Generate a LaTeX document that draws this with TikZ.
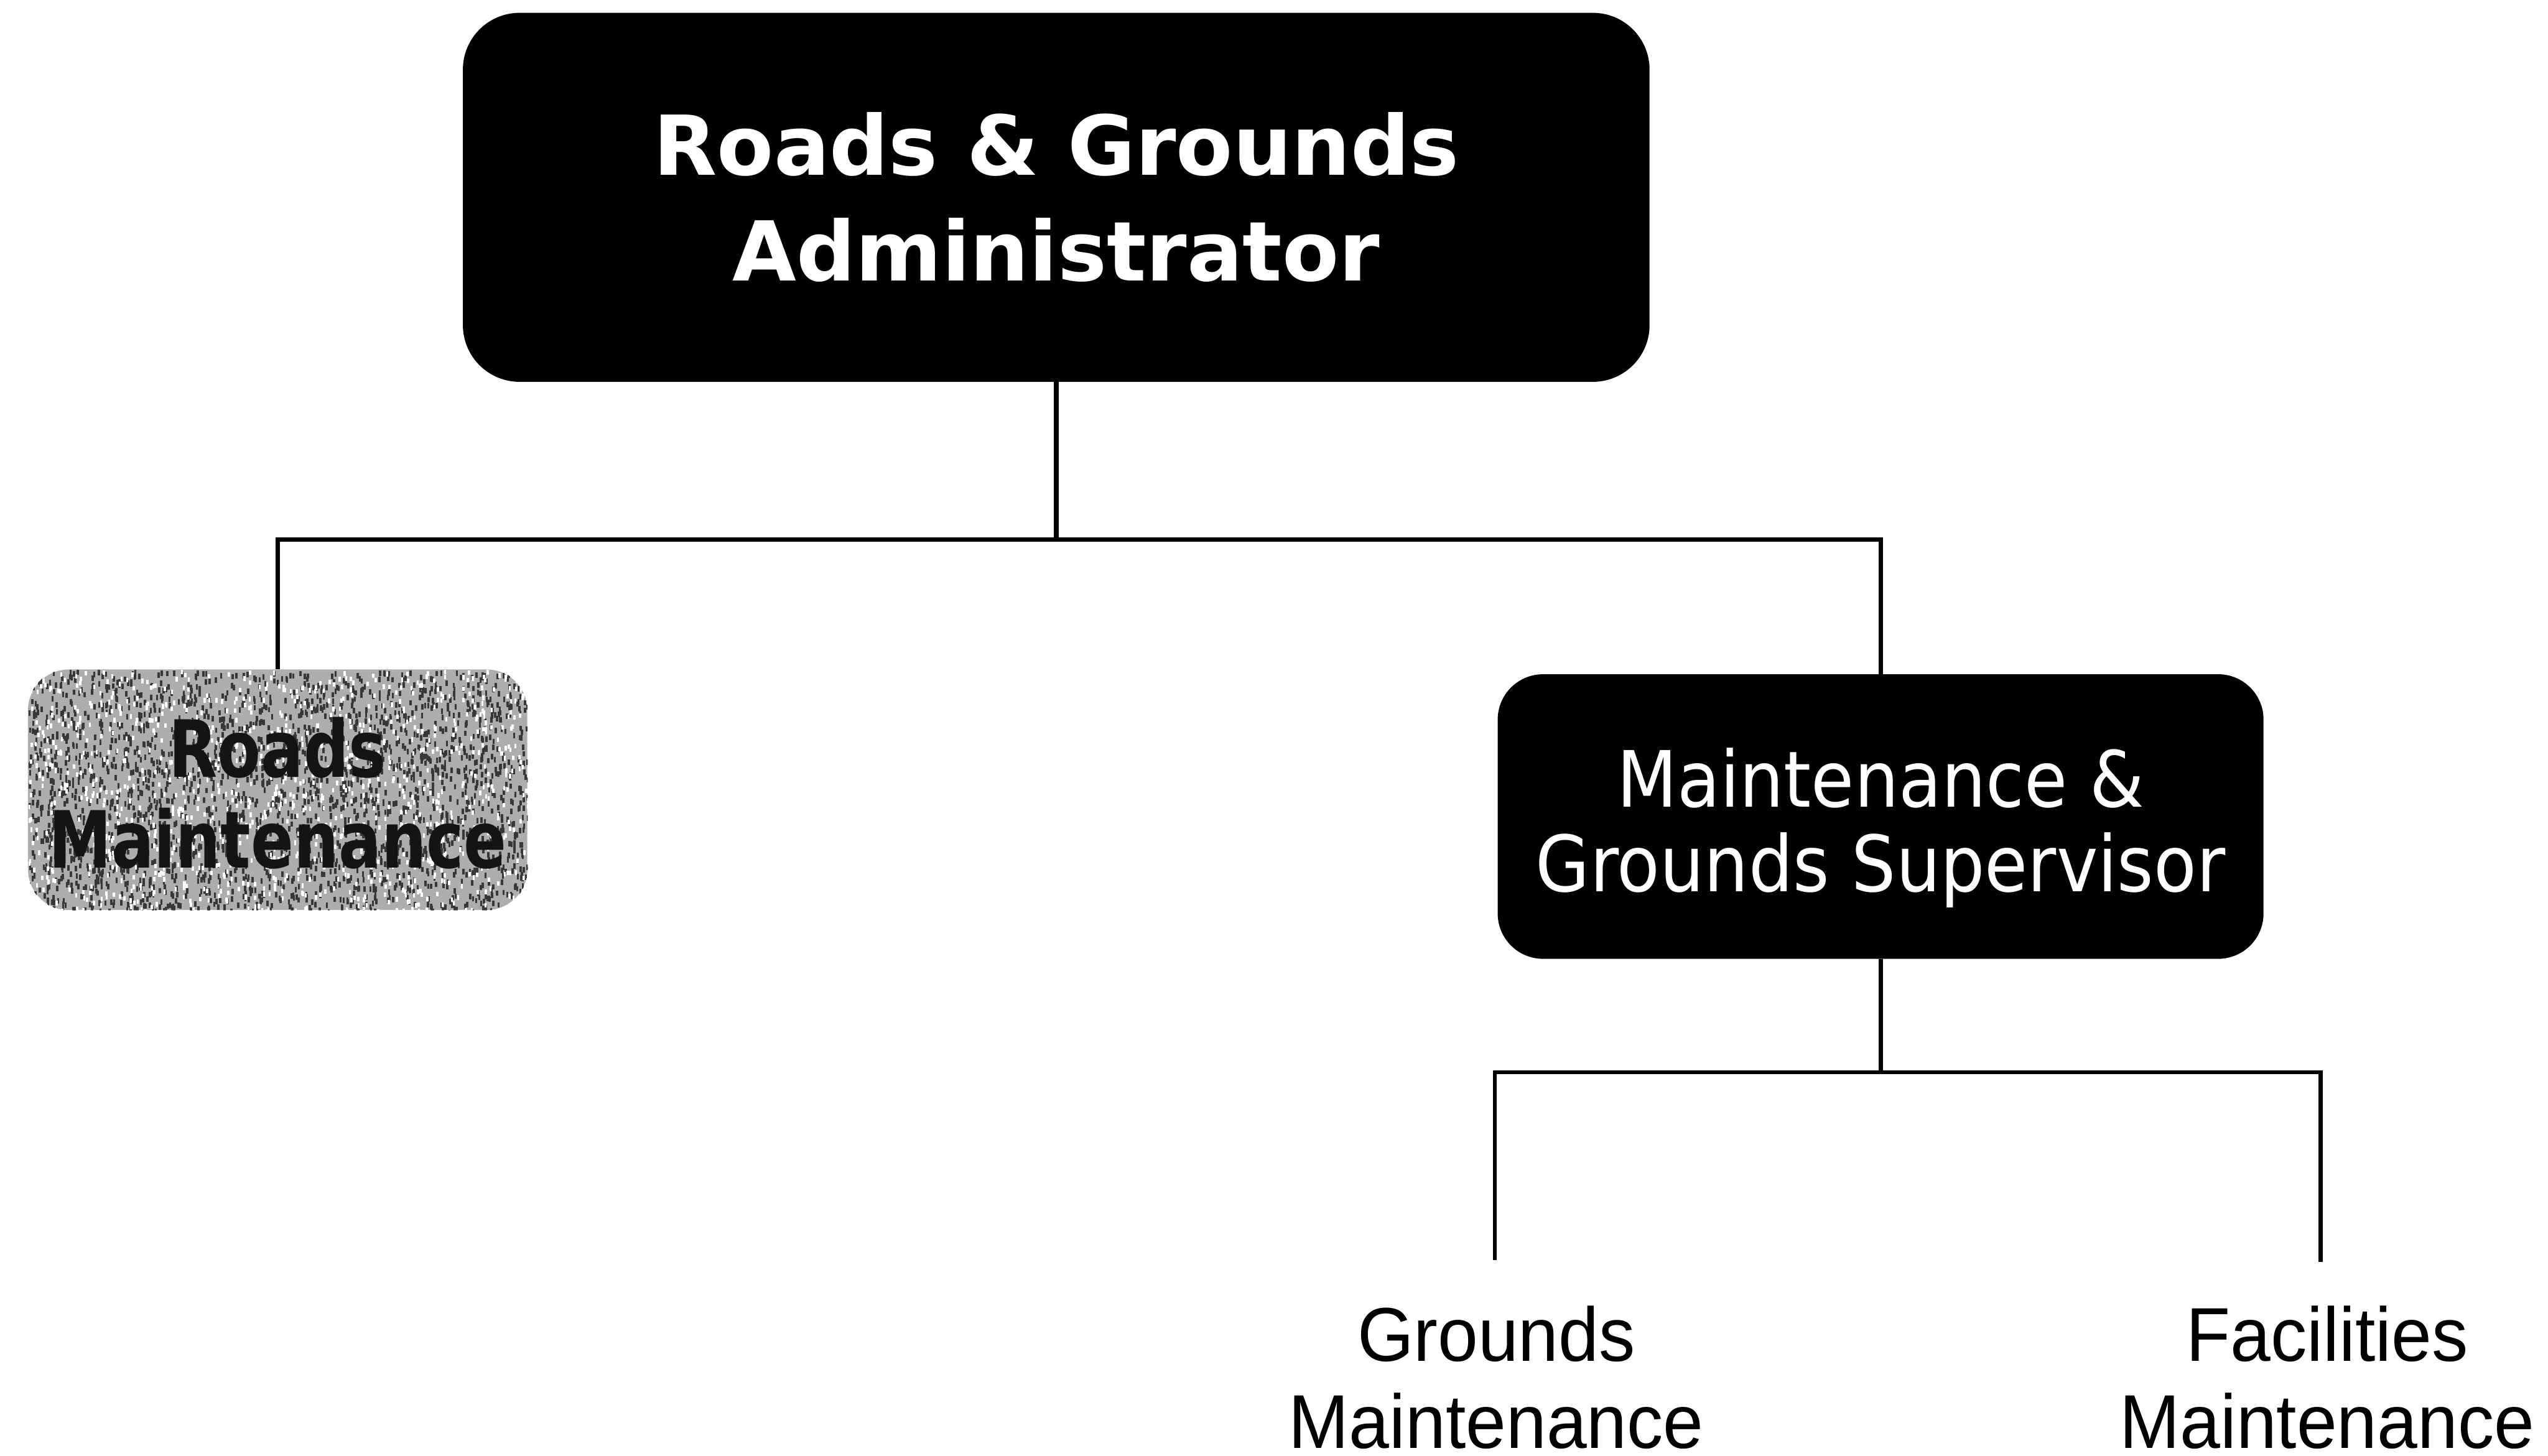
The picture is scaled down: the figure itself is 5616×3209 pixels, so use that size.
\documentclass[tikz,border=0pt]{standalone}
\usepackage{fontspec}
\newfontfamily\dvs{DejaVu Sans}
\newfontfamily\dvsnarrow[FakeStretch=0.9]{DejaVu Sans}
\newfontfamily\dvscond[FakeStretch=0.8]{DejaVu Sans}
\newfontfamily\lib[FakeStretch=0.95]{Liberation Sans}
\begin{document}
\begin{tikzpicture}[x=0.01cm,y=-0.01cm,
  conn/.style={draw=black,line width=0.1cm},
  headbox/.style={fill=black,text=white,rounded corners=1.25cm,inner sep=0pt,align=center},
  softbox/.style={rounded corners=0.9cm,inner sep=0pt},
  plainlabel/.style={text=black,inner sep=0pt,align=center,
    font=\lib\fontsize{47.8pt}{54.6pt}\selectfont}]
\useasboundingbox (0,0) rectangle (5616,3209);
\fill[white] (0,0) rectangle (5616,3209);

% administrator box
\node[headbox,minimum width=26.14cm,minimum height=8.13cm,
  font=\dvs\bfseries\fontsize{51.8pt}{66.3pt}\selectfont]
  (admin) at (2328,435) {Roads \& Grounds\\Administrator};

% speckled grey box for roads maintenance
\node[softbox,fill=black!32,minimum width=11cm,minimum height=5.3cm]
  (roads) at (612,1741) {};
\begin{scope}
  \clip[rounded corners=0.9cm] (roads.south west) rectangle (roads.north east);
  \pgfmathsetseed{42}
  \foreach \k in {1,...,2600}{
    \pgfmathsetmacro{\px}{62+1100*rnd}
    \pgfmathsetmacro{\py}{1476+530*rnd}
    \fill[black!78] (\px,\py) rectangle ++(5,12);
  }
  \foreach \k in {1,...,1200}{
    \pgfmathsetmacro{\px}{62+1100*rnd}
    \pgfmathsetmacro{\py}{1476+530*rnd}
    \fill[white] (\px,\py) rectangle ++(5,10);
  }
\end{scope}
\node[inner sep=0pt,align=center,text=black!92,
  font=\dvscond\bfseries\fontsize{49.5pt}{56.9pt}\selectfont]
  (roadstext) at (612,1748) {Roads\\Maintenance};

% supervisor box
\node[headbox,rounded corners=1cm,minimum width=16.87cm,minimum height=6.27cm]
  (super) at (4145,1800) {};
\node[inner sep=0pt,align=center,text=white,
  font=\dvsnarrow\fontsize{48.7pt}{52.9pt}\selectfont]
  (supertext) at (4145,1825) {Maintenance \&\\Grounds Supervisor};

% plain labels at the bottom
\node[plainlabel,anchor=base] (grounds) at (3298,3192) {Grounds\\Maintenance};
\node[plainlabel,anchor=base] (facil) at (5129,3192) {Facilities\\Maintenance};

% junctions and line ends
\coordinate (j1) at (2328,1189);
\coordinate (j2) at (4145,2364);
\coordinate (gend) at (3295,2778);
\coordinate (fend) at (5115,2782);

% connectors
\draw[conn] (admin.south) -- (j1);
\draw[conn] (roads.north) |- (j1) -| (super.north);
\draw[conn] (super.south) -- (j2);
\draw[conn,line width=0.09cm] (gend) |- (j2) -| (fend);
\end{tikzpicture}
\end{document}
